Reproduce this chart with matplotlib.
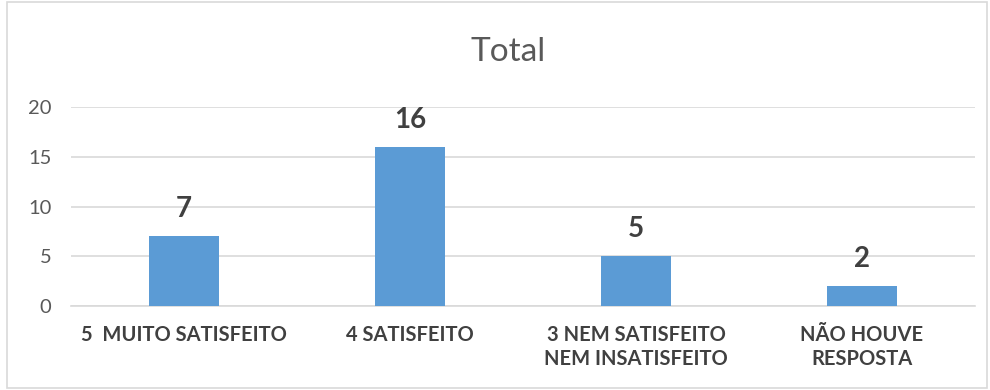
import matplotlib.pyplot as plt
from matplotlib.patches import Rectangle

categories = ["5  MUITO SATISFEITO", "4 SATISFEITO",
              "3 NEM SATISFEITO\nNEM INSATISFEITO", "NÃO HOUVE\nRESPOSTA"]
values = [7, 16, 5, 2]
y_ticks = [0, 5, 10, 15, 20]

plt.rcParams['font.family'] = ['Lato', 'DejaVu Sans']

fig = plt.figure(figsize=[9.9, 3.9], dpi=100)
ax = fig.add_axes([71 / 990, 84 / 390, 904 / 990, 199 / 390])

# chart frame
fig.patches.append(Rectangle((7 / 990, 2 / 390), 980 / 990, 386 / 390,
                             transform=fig.transFigure, fill=False,
                             edgecolor='#D9D9D9', linewidth=1.2))

x = range(len(categories))
bars = ax.bar(x, values, width=0.31, color='#5B9BD5', zorder=3)

for p, v in zip(bars.patches, values):
    ax.annotate(str(v), (p.get_x() + p.get_width() / 2, p.get_height()),
                xytext=(0, 10), textcoords='offset points', ha='center',
                va='bottom', fontsize=20, fontweight='bold', color='#404040')

ax.set_xlim(-0.5, len(categories) - 0.5)
ax.set_ylim(0, 20)
ax.set_yticks(y_ticks)
ax.set_xticks(list(x))
ax.set_xticklabels(categories, fontsize=14.5, fontweight='bold', color='#404040',
                   linespacing=1.2)
ax.tick_params(axis='y', labelsize=14.5, colors='#595959', length=0, pad=14)
ax.tick_params(axis='x', length=0, pad=14)
ax.yaxis.grid(True, color='#D9D9D9', linewidth=1.2, zorder=0)
for s in ax.spines.values():
    s.set_visible(False)
ax.spines['bottom'].set_visible(True)
ax.spines['bottom'].set_color('#D9D9D9')
ax.spines['bottom'].set_linewidth(1.2)

fig.text(508 / 990, 1 - 52 / 390, 'Total', ha='center', va='center',
         fontsize=24, color='#595959')

fig.savefig('out.png', dpi=100)
